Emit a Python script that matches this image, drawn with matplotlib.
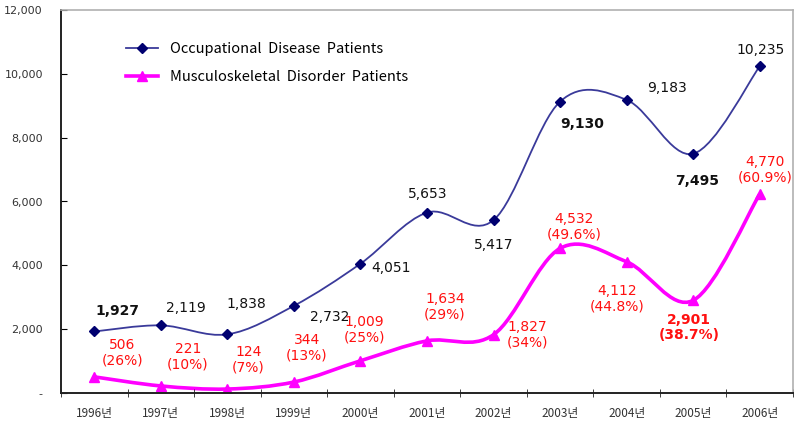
import matplotlib
matplotlib.use("Agg")
import matplotlib.pyplot as plt
from matplotlib.path import Path
from matplotlib.patches import PathPatch
from matplotlib.lines import Line2D
from matplotlib.ticker import FuncFormatter
import numpy as np

years = ["1996년", "1997년", "1998년", "1999년", "2000년", "2001년",
         "2002년", "2003년", "2004년", "2005년", "2006년"]
occupational = [1927, 2119, 1838, 2732, 4051, 5653, 5417, 9130, 9183, 7495, 10235]
msd = [506, 221, 124, 344, 1009, 1634, 1827, 4532, 4112, 2901, 6233]
msd_labels = ["506\n(26%)", "221\n(10%)", "124\n(7%)", "344\n(13%)", "1,009\n(25%)",
              "1,634\n(29%)", "1,827\n(34%)", "4,532\n(49.6%)", "4,112\n(44.8%)",
              "2,901\n(38.7%)", "4,770\n(60.9%)"]

# label offsets (pixels from the point)
occ_off = [(23, 20), (25, 17), (19, 30), (36, -11), (31, -4), (1, 19),
           (0, -25), (22, -22), (40, 12), (4, -27), (1, 16)]
msd_off = [(28, 24), (27, 29), (21, 29), (13, 34), (4, 31), (18, 34),
           (34, 0), (14, 22), (-10, -37), (-4, -27), (5, 24)]
occ_bold = {0, 7, 9}
msd_bold = {9}

NAVY = "#000070"
LINE_BLUE = "#3a3a9a"
MAGENTA = "#ff00ff"


def smooth_path(x, y):
    """Excel-style smoothed line as cubic Bezier segments."""
    pts = np.column_stack([x, y]).astype(float)
    n = len(pts)
    verts = [pts[0]]
    codes = [Path.MOVETO]
    for i in range(n - 1):
        p0 = pts[i - 1] if i > 0 else pts[i]
        p1, p2 = pts[i], pts[i + 1]
        p3 = pts[i + 2] if i + 2 < n else pts[i + 1]
        c1 = p1 + (p2 - p0) / 6.0
        c2 = p2 - (p3 - p1) / 6.0
        verts += [c1, c2, p2]
        codes += [Path.CURVE4] * 3
    return Path(verts, codes)


fig = plt.figure(figsize=(8, 4.23), dpi=100)
ax = fig.add_axes([61 / 800, 1 - 393 / 423, 732 / 800, 383 / 423])

x = np.arange(len(years))
ax.add_patch(PathPatch(smooth_path(x, occupational), fill=False, edgecolor=LINE_BLUE, lw=1.3))
ax.add_patch(PathPatch(smooth_path(x, msd), fill=False, edgecolor=MAGENTA, lw=2.6))
ax.plot(x, occupational, linestyle="none", marker="D", color=NAVY, markersize=5)
ax.plot(x, msd, linestyle="none", marker="^", color=MAGENTA, markersize=6.5)

for i, v in enumerate(occupational):
    ax.annotate(f"{v:,}", (i, v), xytext=occ_off[i], textcoords="offset pixels",
                ha="center", va="center", fontsize=10, color="#111111",
                fontweight="bold" if i in occ_bold else "normal")
for i, v in enumerate(msd):
    ax.annotate(msd_labels[i], (i, v), xytext=msd_off[i], textcoords="offset pixels",
                ha="center", va="center", fontsize=10, color="#ff1010",
                linespacing=1.15, fontweight="bold" if i in msd_bold else "normal")

ax.set_xlim(-0.5, len(years) - 0.5)
ax.set_ylim(0, 12000)
ax.set_yticks(np.arange(0, 12001, 2000))
ax.yaxis.set_major_formatter(FuncFormatter(lambda v, p: "-" if v == 0 else f"{int(v):,}"))
ax.set_xticks(x)
ax.set_xticklabels(years, family=["Noto Sans CJK KR", "DejaVu Sans"], fontsize=8.5, color="#333333")
ax.set_xticks(np.arange(-0.5, len(years), 1), minor=True)
ax.tick_params(axis="x", which="major", length=0, pad=10)
ax.tick_params(axis="x", which="minor", direction="inout", length=6, color="#222222")
ax.tick_params(axis="y", direction="in", length=4, labelsize=8, labelcolor="#333333", pad=13)

for s in ["left", "bottom"]:
    ax.spines[s].set_color("#222222")
    ax.spines[s].set_linewidth(1.4)
for s in ["top", "right"]:
    ax.spines[s].set_color("#b0b0b0")
    ax.spines[s].set_linewidth(1.2)

handles = [
    Line2D([], [], color=LINE_BLUE, lw=1.3, marker="D", markersize=5,
           markerfacecolor=NAVY, markeredgecolor=NAVY),
    Line2D([], [], color=MAGENTA, lw=2.6, marker="^", markersize=6.5),
]
ax.legend(handles, ["Occupational  Disease  Patients", "Musculoskeletal  Disorder  Patients"],
          loc="upper left", bbox_to_anchor=(113 / 800, 1 - 29 / 423),
          bbox_transform=fig.transFigure, frameon=False, handlelength=2.2,
          handletextpad=0.8, labelspacing=0.95, prop={"family": "Noto Sans CJK KR", "size": 10.5})

fig.savefig("out.png", dpi=100)
